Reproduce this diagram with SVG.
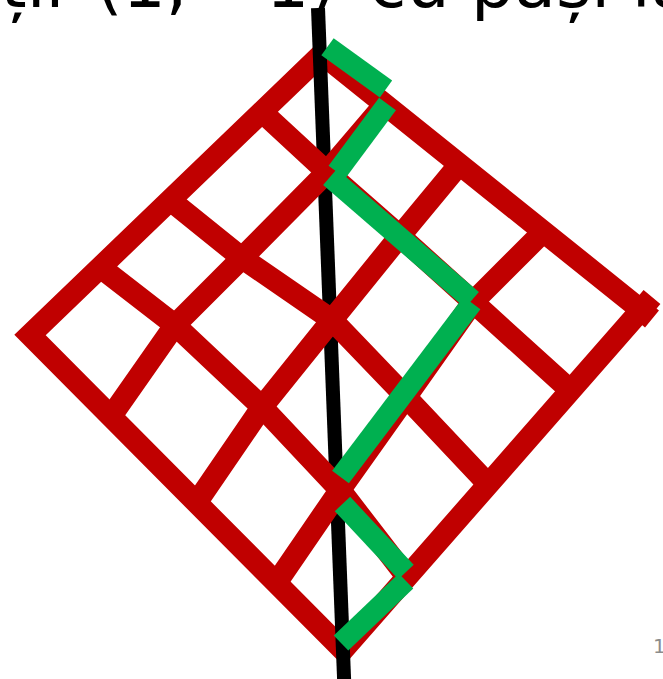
<svg xmlns="http://www.w3.org/2000/svg" width="663" height="679" viewBox="0 0 663 679">
  <style>
    .red { fill: none; stroke: #C00000; stroke-width: 22; stroke-linejoin: miter; stroke-linecap: butt; }
    .grn { fill: none; stroke: #00B050; stroke-width: 21; stroke-linecap: butt; }
    .axis { fill: none; stroke: #000000; stroke-width: 14; stroke-linecap: butt; }
    .title { font-family: "DejaVu Sans", "Liberation Sans", sans-serif; font-size: 68px; fill: #000000; }
    .page { font-family: "DejaVu Sans", "Liberation Sans", sans-serif; font-size: 20px; fill: #8C8C8C; }
  </style>
  <rect x="0" y="0" width="663" height="679" fill="#FFFFFF"/>
  <g id="title">
    <text class="title" y="7"><tspan x="0">ții</tspan><tspan x="96">(1, −1)</tspan><tspan x="369">cu pași la</tspan></text>
  </g>
  <g id="frame">
    <path class="red" d="M322,54 L30,335 L343,650 L641,310 L652,297"/>
    <path class="red" d="M322,54 L641,310 L652,319"/>
  </g>
  <g id="axis">
    <line class="axis" x1="318" y1="8" x2="344.5" y2="690"/>
  </g>
  <g id="grid">
    <polyline class="red" points="385,104 327,172 242,258 175,325 112,415"/>
    <polyline class="red" points="458,166 400,236 332,320 262,407 197,502"/>
    <polyline class="red" points="543,232 473,302 406,397 340,490 277,582"/>
    <polyline class="red" points="262,112 327,172 400,236 473,302 570,390"/>
    <polyline class="red" points="170,200 242,258 332,320 406,397 488,484"/>
    <polyline class="red" points="100,267 175,325 262,407 340,490 407,577"/>
  </g>
  <g id="path">
    <line class="grn" x1="327.5" y1="46.7" x2="386" y2="89"/>
    <line class="grn" x1="387.5" y1="104" x2="337" y2="172"/>
    <line class="grn" x1="330" y1="177" x2="472" y2="300"/>
    <line class="grn" x1="472" y1="303" x2="340.5" y2="477"/>
    <line class="grn" x1="342.5" y1="504" x2="406" y2="572"/>
    <line class="grn" x1="406" y1="581" x2="341" y2="643"/>
  </g>
  <g id="page-number">
    <text class="page" x="653" y="653">1</text>
  </g>
</svg>
